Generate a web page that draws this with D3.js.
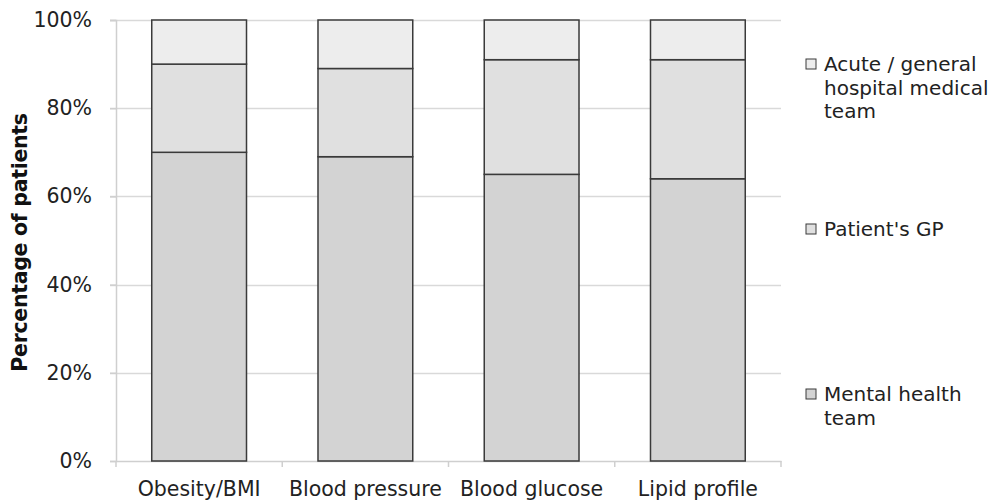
<!DOCTYPE html>
<html><head><meta charset="utf-8">
<script src="https://cdn.jsdelivr.net/npm/d3@7"></script>
<style>body{margin:0;background:#fff}svg{display:block}text{font-family:"DejaVu Sans",Verdana,sans-serif}</style>
</head><body>
<script>
const categories = ["Obesity/BMI", "Blood pressure", "Blood glucose", "Lipid profile"];
const mentalHealth = [70, 69, 65, 64];
const patientsGP = [20, 20, 26, 27];
const acuteGeneral = [10, 11, 9, 9];
const seriesNames = ["Mental health team", "Patient's GP", "Acute / general hospital medical team"];
const yTicks = [0, 20, 40, 60, 80, 100];

const W = 993, H = 502;
const m = {left: 116, right: 212, top: 20, bottom: 41};
const FS = 20.5;
const svg = d3.select("body").append("svg").attr("width", W).attr("height", H);

const x = d3.scaleBand().domain(categories).range([m.left, W - m.right]).paddingInner(0.43).paddingOuter(0.215);
const xb = d3.scaleBand().domain(categories).range([m.left, W - m.right]);
const y = d3.scaleLinear().domain([0, 100]).range([H - m.bottom, m.top]);

const colors = ["#d3d3d3", "#e0e0e0", "#ededed"];
const rows = categories.map((c, i) => ({cat: c, s0: mentalHealth[i], s1: patientsGP[i], s2: acuteGeneral[i]}));
const stack = d3.stack().keys(["s0", "s1", "s2"])(rows);

// gridlines
svg.append("g").selectAll("line").data(yTicks.slice(1)).join("line")
  .attr("x1", m.left - 6).attr("x2", W - m.right)
  .attr("y1", d => Math.round(y(d)) + 0.5).attr("y2", d => Math.round(y(d)) + 0.5)
  .attr("stroke", "#d9d9d9").attr("stroke-width", 1.5);

// y axis
const ya = svg.append("g").attr("transform", `translate(${m.left},0)`)
  .call(d3.axisLeft(y).tickValues(yTicks).tickFormat(d => d + "%").tickSize(6).tickPadding(18));
ya.select(".domain").attr("stroke", "#cfcfcf").attr("stroke-width", 1.5);
ya.selectAll(".tick line").attr("stroke", "#cfcfcf").attr("stroke-width", 1.5);
ya.selectAll("text").attr("font-size", FS).attr("fill", "#222").attr("font-family", "DejaVu Sans");

// x axis
const xa = svg.append("g").attr("transform", `translate(0,${H - m.bottom})`)
  .call(d3.axisBottom(xb).tickSize(0).tickPadding(20));
xa.select(".domain").attr("stroke", "#cfcfcf").attr("stroke-width", 1.5);
xa.selectAll("text").attr("font-size", FS).attr("fill", "#222").attr("font-family", "DejaVu Sans").attr("dy", "0.71em");
const bounds = categories.map(c => xb(c)).concat([xb(categories[categories.length - 1]) + xb.bandwidth()]);
xa.selectAll(".bt").data(bounds).join("line").attr("class", "bt")
  .attr("x1", d => d).attr("x2", d => d).attr("y1", 0).attr("y2", 6)
  .attr("stroke", "#cfcfcf").attr("stroke-width", 1.5);

// bars
svg.append("g").selectAll("g").data(stack).join("g").attr("fill", (d, i) => colors[i])
  .selectAll("rect").data(d => d).join("rect")
  .attr("x", d => x(d.data.cat)).attr("width", x.bandwidth())
  .attr("y", d => y(d[1])).attr("height", d => y(d[0]) - y(d[1]))
  .attr("stroke", "#3a3a3a").attr("stroke-width", 1.5);

// y title
svg.append("text").attr("transform", `translate(27,${(m.top + H - m.bottom) / 2 + 2}) rotate(-90)`)
  .attr("text-anchor", "middle").attr("font-size", FS).attr("font-weight", "bold").attr("fill", "#111")
  .attr("letter-spacing", -0.3)
  .text("Percentage of patients");

// legend
const legend = [
  {lines: ["Acute / general", "hospital medical", "team"], c: colors[2], y: 71},
  {lines: ["Patient's GP"], c: colors[1], y: 236},
  {lines: ["Mental health", "team"], c: colors[0], y: 401}
];
const lg = svg.append("g").selectAll("g").data(legend).join("g");
lg.append("rect").attr("x", 806).attr("y", d => d.y - 12).attr("width", 10).attr("height", 10)
  .attr("fill", d => d.c).attr("stroke", "#3a3a3a").attr("stroke-width", 1);
lg.append("text").attr("x", 824).attr("y", d => d.y).attr("font-size", 20).attr("fill", "#222")
  .selectAll("tspan").data(d => d.lines).join("tspan").attr("x", 824).attr("dy", (d, i) => i ? 23.5 : 0).text(d => d);
</script>
</body></html>
